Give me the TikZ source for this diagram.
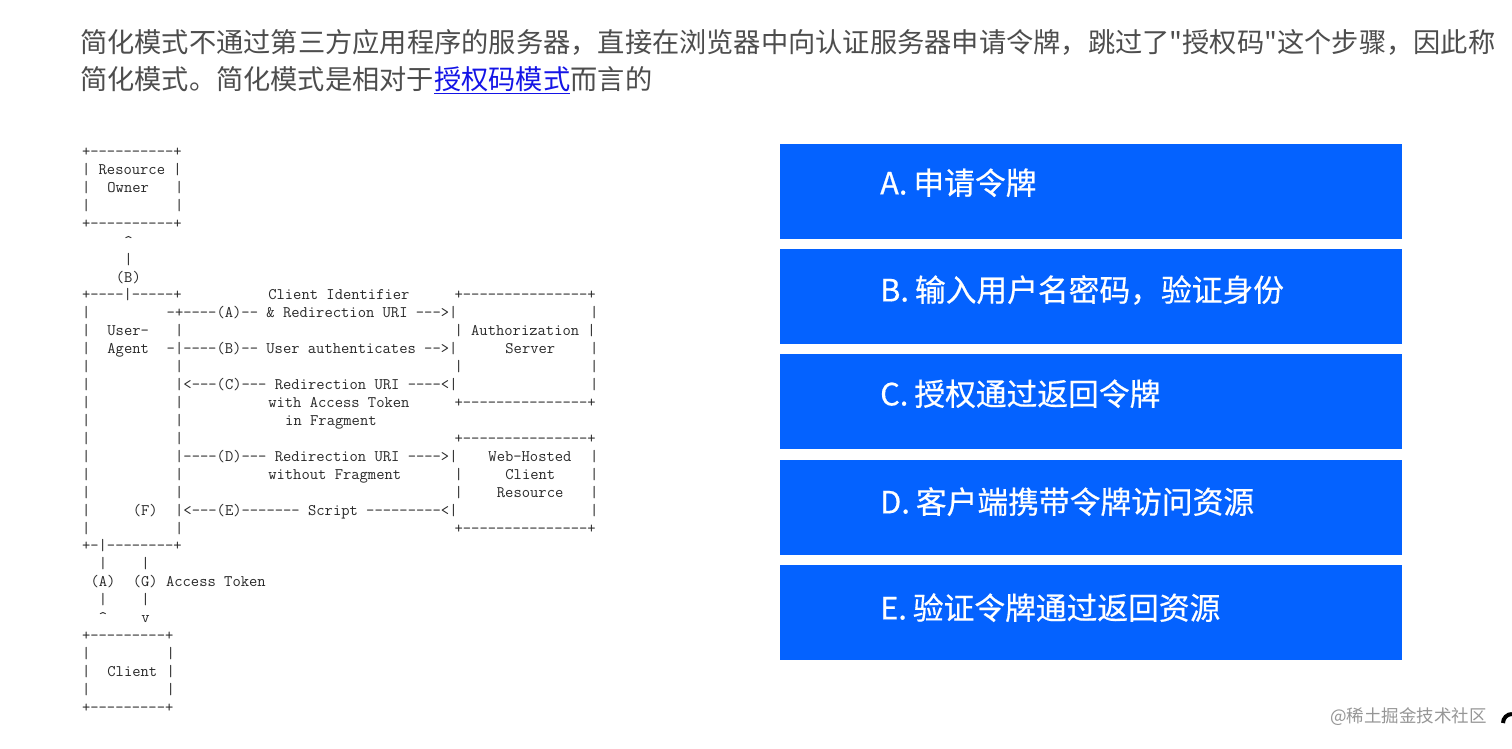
\documentclass[tikz,border=0pt]{standalone}
\usepackage{fontspec}
\usepackage{graphicx}
\newfontfamily\cjk{Noto Sans CJK SC}
\newfontfamily\cjkmed{Noto Sans CJK SC}[FakeBold=0.5]
\definecolor{bodygray}{RGB}{77,77,77}
\definecolor{linkblue}{RGB}{20,20,230}
\definecolor{boxblue}{RGB}{4,98,255}
\definecolor{asciigray}{RGB}{40,40,40}
\definecolor{wmgray}{RGB}{150,150,150}
\tikzset{
  asc/.style={font=\ttfamily\fontsize{16.13}{18}\selectfont, text=asciigray, inner sep=0pt, anchor=base west},
  para/.style={font=\cjk\fontsize{27.2}{30}\selectfont, text=bodygray, inner sep=0pt, anchor=base west},
  bluebox/.style={fill=boxblue, draw=none, inner sep=0pt, minimum width=622pt, minimum height=95pt, anchor=north west},
  boxtext/.style={font=\cjkmed\fontsize{30.75}{32}\selectfont, text=white, inner sep=0pt, anchor=base west},
}
\newcommand\ascline[3]{\node[asc] (r#1c#2) at ({39.5+#2*8.467},{156.5+#1*17.93}) {#3};}
\newcommand\gapdot{.\hspace{6pt}}
\begin{document}
\begin{tikzpicture}[x=1pt,y=-1pt]
\useasboundingbox (0,0) rectangle (1512,748);
\fill[white] (0,0) rectangle (1512,748);
% paragraph
\node[para] (p1) at (80,52.3) {\resizebox{1415pt}{\height}{简化模式不通过第三方应用程序的服务器，直接在浏览器中向认证服务器申请令牌，跳过了"授权码"这个步骤，因此称}};
\node[para] (p2a) at (80,89.5) {简化模式。简化模式是相对于};
\node[para, text=linkblue] (p2link) at (p2a.base east) {授权码模式};
\node[para] (p2b) at (p2link.base east) {而言的};
\draw[linkblue, line width=1.4pt] ([yshift=-4pt]p2link.base west) -- ([yshift=-4pt]p2link.base east);
% ascii diagram
\ascline{0}{5}{+----------+}
\ascline{1}{5}{| Resource |}
\ascline{2}{5}{|}\ascline{2}{8}{Owner}\ascline{2}{16}{|}
\ascline{3}{5}{|}\ascline{3}{16}{|}
\ascline{4}{5}{+----------+}
\ascline{5}{10}{\textasciicircum}
\ascline{6}{10}{|}
\ascline{7}{9}{(B)}
\ascline{8}{5}{+----|-----+}\ascline{8}{27}{Client Identifier}\ascline{8}{49}{+---------------+}
\ascline{9}{5}{|}\ascline{9}{15}{-+----(A)-- \& Redirection URI --->|}\ascline{9}{65}{|}
\ascline{10}{5}{|}\ascline{10}{8}{User-}\ascline{10}{16}{|}\ascline{10}{49}{| Authorization |}
\ascline{11}{5}{|}\ascline{11}{8}{Agent}\ascline{11}{15}{-|----(B)-- User authenticates -->|}\ascline{11}{55}{Server}\ascline{11}{65}{|}
\ascline{12}{5}{|}\ascline{12}{16}{|}\ascline{12}{49}{|}\ascline{12}{65}{|}
\ascline{13}{5}{|}\ascline{13}{16}{|<---(C)--- Redirection URI ----<|}\ascline{13}{65}{|}
\ascline{14}{5}{|}\ascline{14}{16}{|}\ascline{14}{27}{with Access Token}\ascline{14}{49}{+---------------+}
\ascline{15}{5}{|}\ascline{15}{16}{|}\ascline{15}{29}{in Fragment}
\ascline{16}{5}{|}\ascline{16}{16}{|}\ascline{16}{49}{+---------------+}
\ascline{17}{5}{|}\ascline{17}{16}{|----(D)--- Redirection URI ---->|}\ascline{17}{53}{Web-Hosted}\ascline{17}{65}{|}
\ascline{18}{5}{|}\ascline{18}{16}{|}\ascline{18}{27}{without Fragment}\ascline{18}{49}{|}\ascline{18}{55}{Client}\ascline{18}{65}{|}
\ascline{19}{5}{|}\ascline{19}{16}{|}\ascline{19}{49}{|}\ascline{19}{54}{Resource}\ascline{19}{65}{|}
\ascline{20}{5}{|}\ascline{20}{11}{(F)}\ascline{20}{16}{|<---(E)------- Script ---------<|}\ascline{20}{65}{|}
\ascline{21}{5}{|}\ascline{21}{16}{|}\ascline{21}{49}{+---------------+}
\ascline{22}{5}{+-|--------+}
\ascline{23}{7}{|}\ascline{23}{12}{|}
\ascline{24}{6}{(A)}\ascline{24}{11}{(G) Access Token}
\ascline{25}{7}{|}\ascline{25}{12}{|}
\ascline{26}{7}{\textasciicircum}\ascline{26}{12}{v}
\ascline{27}{5}{+---------+}
\ascline{28}{5}{|}\ascline{28}{15}{|}
\ascline{29}{5}{|}\ascline{29}{8}{Client}\ascline{29}{15}{|}
\ascline{30}{5}{|}\ascline{30}{15}{|}
\ascline{31}{5}{+---------+}
% blue boxes
\node[bluebox] (bA) at (780,144) {};
\node[bluebox] (bB) at (780,249) {};
\node[bluebox] (bC) at (780,354) {};
\node[bluebox] (bD) at (780,460) {};
\node[bluebox] (bE) at (780,565) {};
\node[boxtext] (tA) at (880,194.4) {A\gapdot 申请令牌};
\node[boxtext] (tB) at (880,301.4) {B\gapdot 输入用户名密码，验证身份};
\node[boxtext] (tC) at (880,405.4) {C\gapdot 授权通过返回令牌};
\node[boxtext] (tD) at (880,513.4) {D\gapdot 客户端携带令牌访问资源};
\node[boxtext] (tE) at (880,619.4) {E\gapdot 验证令牌通过返回资源};
% watermark
\node[font=\cjk\fontsize{17.5}{19}\selectfont, text=wmgray, inner sep=0pt, anchor=west] (wm) at (1330,717) {@稀土掘金技术社区};
\draw[black, line width=4pt] (1503,723) arc[start angle=180, end angle=270, radius=9];
\end{tikzpicture}
\end{document}
